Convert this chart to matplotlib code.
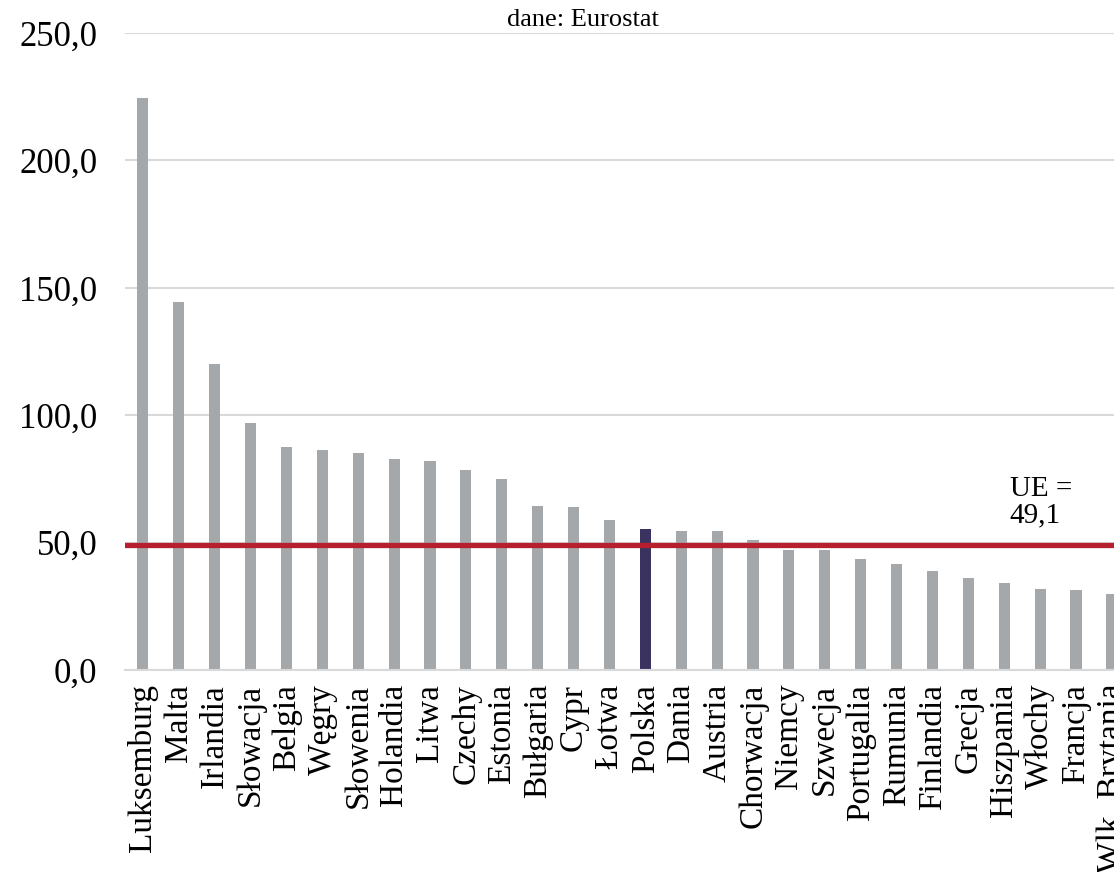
import numpy as np
import matplotlib.pyplot as plt

# Data
countries = ['Luksemburg', 'Malta', 'Irlandia', 'Słowacja', 'Belgia', 'Węgry',
             'Słowenia', 'Holandia', 'Litwa', 'Czechy', 'Estonia', 'Bułgaria',
             'Cypr', 'Łotwa', 'Polska', 'Dania', 'Austria', 'Chorwacja', 'Niemcy',
             'Szwecja', 'Portugalia', 'Rumunia', 'Finlandia', 'Grecja',
             'Hiszpania', 'Włochy', 'Francja', 'Wlk. Brytania']
values = [224.5, 144.4, 120.1, 96.9, 87.5, 86.3, 85.2, 82.8, 82.0, 78.5, 75.0,
          64.4, 64.0, 58.9, 55.3, 54.6, 54.6, 51.0, 47.1, 47.1, 43.6, 41.6,
          38.9, 36.1, 34.1, 31.8, 31.4, 29.8]
eu_avg = 49.1
highlight = 'Polska'
yticks = [0, 50, 100, 150, 200, 250]

plt.rcParams['font.family'] = ['Liberation Serif', 'DejaVu Serif']

fig = plt.figure(figsize=(11.14, 8.72), dpi=100)
# axes runs past the right edge, like the cropped original
ax = fig.add_axes([0.1122, 0.2317, 0.902, 0.7305])

x = np.arange(len(countries))
colors = ['#3a3360' if c == highlight else '#a5a8ab' for c in countries]
ax.bar(x, values, width=0.31, color=colors, zorder=2)

ax.axhline(eu_avg, color='#b51f2e', lw=3.8, zorder=3)
ax.text(24.15, 58, 'UE =\n49,1', fontsize=21, ha='left', va='baseline',
        linespacing=1.0)

ax.set_xlim(-0.5, len(countries) - 0.5)
ax.set_ylim(0, 250)
ax.set_yticks(yticks)
ax.set_yticklabels([f'{v:.1f}'.replace('.', ',') for v in yticks])
ax.set_xticks(x)
ax.set_xticklabels(countries, rotation=90, va='top', ha='center')
ax.tick_params(axis='y', length=0, pad=20, labelsize=25)
ax.tick_params(axis='x', length=0, pad=10, labelsize=24)

ax.grid(axis='y', color='#d9d9d9', lw=1.5, zorder=0)
for s in ['top', 'right', 'left']:
    ax.spines[s].set_visible(False)
ax.spines['bottom'].set_color('#d9d9d9')
ax.spines['bottom'].set_linewidth(1.5)

fig.text(583 / 1114, 1 - 20 / 872, 'dane: Eurostat', fontsize=19,
         ha='center', va='center')

fig.savefig('out.png', dpi=100)
